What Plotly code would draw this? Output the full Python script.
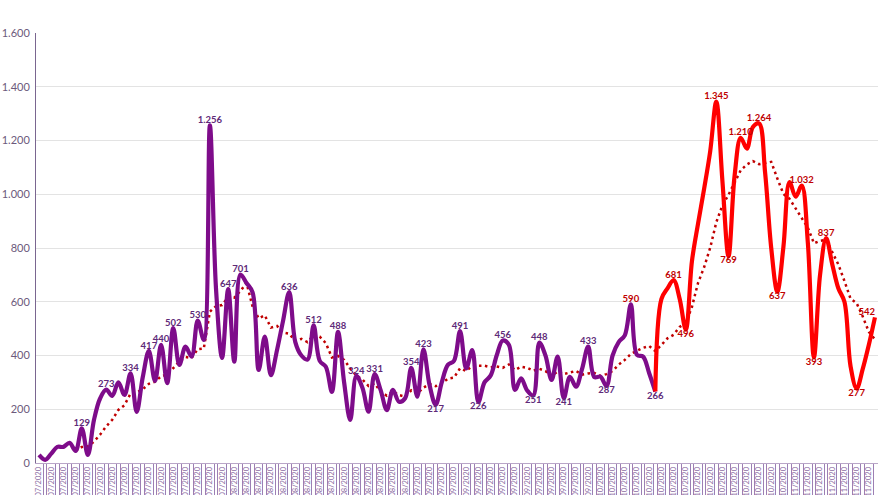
import plotly.graph_objects as go
import numpy as np
from datetime import date, timedelta

# ---------------- data ----------------
start_date = date(2020, 7, 1)
purple_values = [
    30, 12, 35, 60, 60, 75, 45, 129, 30, 160,
    240, 273, 250, 300, 253, 334, 190, 320, 417, 305,
    440, 297, 502, 365, 433, 396, 530, 458, 1256, 650,
    391, 647, 377, 701, 670, 635, 346, 470, 327, 420,
    530, 636, 450, 400, 385, 512, 380, 358, 265, 488,
    300, 160, 324, 280, 191, 331, 270, 197, 272, 228,
    241, 354, 247, 423, 290, 217, 300, 365, 380, 491,
    352, 420, 226, 300, 325, 400, 456, 440, 272, 315,
    270, 251, 448, 400, 309, 396, 241, 321, 284, 350,
    433, 320, 321, 287, 400, 450, 475, 590, 402, 396,
    334, 266,
]
red_values = [
    266, 610, 650, 681, 610, 496, 750, 890, 1020, 1160,
    1345, 1050, 769, 1070, 1210, 1170, 1250, 1264, 1080, 800,
    637, 805, 1045, 991, 1032, 820, 393, 700, 837, 740,
    650, 600, 360, 277, 350, 440, 542,
]
# indices (in the full series) of the points that carry a data label
labels_above_purple = [7, 11, 15, 18, 20, 22, 26, 28, 31, 33, 41, 45, 49, 52, 55,
                       61, 63, 69, 76, 82, 90]
labels_below_purple = [65, 72, 81, 86, 93, 101]
labels_above_red = [97, 104, 111, 115, 118, 125, 129]
labels_below_red = [106, 113, 121, 127, 134]
labels_left_red = [137]
ma_period = 7
y_ticks = [0, 200, 400, 600, 800, 1000, 1200, 1400, 1600]

# -------------- derived ---------------
all_values = purple_values[:-1] + red_values
n = len(all_values)
dates = [(start_date + timedelta(days=k)).strftime("%d/%m/%Y") for k in range(n)]
x_all = list(range(n))
x_purple = x_all[:len(purple_values)]
x_red = x_all[len(purple_values) - 1:]

ma = np.convolve(np.array(all_values, float), np.ones(ma_period) / ma_period, mode="valid")
x_ma = x_all[ma_period - 1:]


def fmt(v):
    return f"{v:,}".replace(",", ".")


PURPLE = "#7E0C8A"
PURPLE_TXT = "#5E2A78"
RED = "#FF0000"
RED_TXT = "#C00000"
FONT = "Lato"

fig = go.Figure()
fig.add_trace(go.Scatter(x=x_ma, y=ma, mode="lines",
                         line=dict(color="#C00000", width=2.5, dash="2.5px,3.5px"),
                         hoverinfo="skip"))
fig.add_trace(go.Scatter(x=x_purple, y=purple_values, mode="lines",
                         line=dict(color=PURPLE, width=4.2, shape="spline", smoothing=1)))
fig.add_trace(go.Scatter(x=x_red, y=red_values, mode="lines",
                         line=dict(color=RED, width=4.2, shape="spline", smoothing=1)))


def add_labels(idx, pos, color):
    fig.add_trace(go.Scatter(
        x=[x_all[i] for i in idx], y=[all_values[i] for i in idx],
        mode="text", text=[fmt(all_values[i]) for i in idx],
        textposition=pos,
        textfont=dict(family=FONT, size=9.5, color=color, weight="bold"),
        hoverinfo="skip", cliponaxis=False))


add_labels(labels_above_purple, "top center", PURPLE_TXT)
add_labels(labels_below_purple, "bottom center", PURPLE_TXT)
add_labels(labels_above_red, "top center", RED_TXT)
add_labels(labels_below_red, "bottom center", RED_TXT)
add_labels(labels_left_red, "top left", RED_TXT)

label_idx = x_all[::2]
box_edges = sorted([i - 0.7 for i in label_idx] + [i + 0.7 for i in label_idx])

fig.update_layout(
    width=880, height=495,
    margin=dict(l=36, r=2, t=33, b=32, autoexpand=False),
    paper_bgcolor="white", plot_bgcolor="white",
    showlegend=False,
    separators=",.",
    font=dict(family=FONT),
    xaxis=dict(
        range=[-0.5, n - 0.5], automargin=False,
        tickmode="array", tickvals=label_idx, ticktext=[dates[i] for i in label_idx],
        tickangle=-90, tickfont=dict(family=FONT, size=7.5, color="#8C6BA3"),
        ticks="", showgrid=False, zeroline=False,
        showline=True, linecolor="#B9A6C8", linewidth=1,
        minor=dict(tickmode="array", tickvals=box_edges, ticks="outside",
                   ticklen=40, tickcolor="#9C7FB4", tickwidth=1, showgrid=False),
    ),
    yaxis=dict(
        range=[0, 1600], automargin=False,
        tickmode="array", tickvals=y_ticks, tickformat=",d",
        tickfont=dict(family=FONT, size=11, color="#6C5A7C"),
        showgrid=True, gridcolor="#E3E3E3", gridwidth=1,
        zeroline=False, showline=True, linecolor="#7A6690", linewidth=1,
        ticks="", ticklabelstandoff=3,
    ),
)

fig.write_html("out.html")
